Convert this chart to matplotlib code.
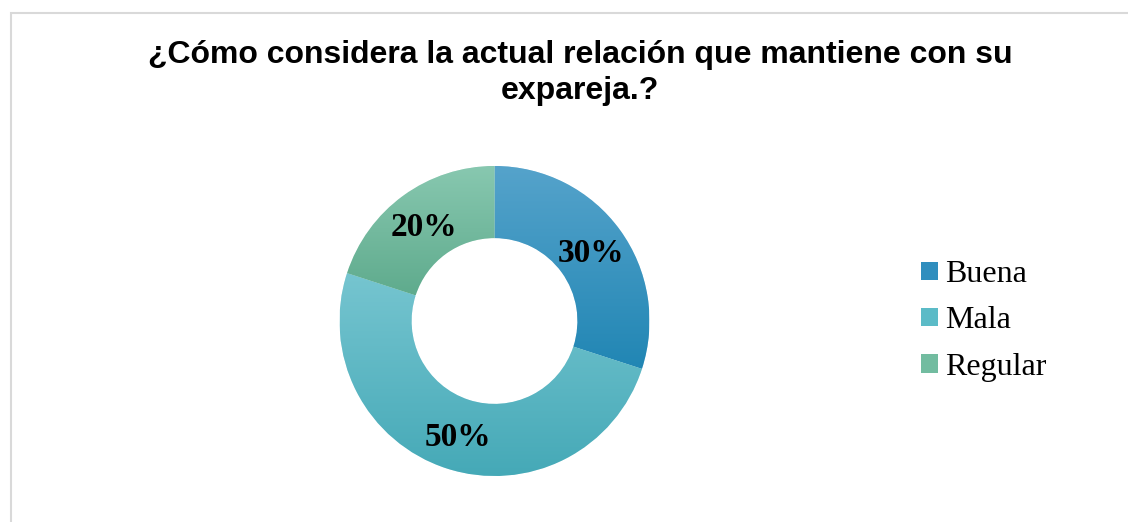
import numpy as np
import matplotlib
matplotlib.use('Agg')
import matplotlib.pyplot as plt
from matplotlib.patches import Rectangle, Patch
from matplotlib.colors import LinearSegmentedColormap

# data
categories = ['Buena', 'Mala', 'Regular']
values = [30, 50, 20]
labels = ['30%', '50%', '20%']
top_colors = ['#55A3CB', '#76C5D0', '#88C8B0']
bottom_colors = ['#2186B4', '#45A9B7', '#5FAB8D']
legend_colors = ['#2F8EBE', '#5BBBC7', '#72BCA0']

W, H = 1128, 522
fig = plt.figure(figsize=(W / 100, H / 100), dpi=100)

# light border (top and left visible)
fig.add_artist(Rectangle((11 / W, -0.2), 1.5, (H - 13) / H + 0.2,
                         transform=fig.transFigure, fill=False,
                         edgecolor='#D9D9D9', lw=1.5))

fig.text(580 / W, 1 - 55 / H, '¿Cómo considera la actual relación que mantiene con su',
         ha='center', va='center', fontsize=23, fontweight='bold',
         family='Liberation Sans')
fig.text(580 / W, 1 - 91 / H, 'expareja.?',
         ha='center', va='center', fontsize=23, fontweight='bold',
         family='Liberation Sans')

cx, cy, r = 494.5, H - 321, 155
pad = 1.03
ax = fig.add_axes([(cx - r * pad) / W, (cy - r * pad) / H, 2 * r * pad / W, 2 * r * pad / H])
wedges, _ = ax.pie(values, startangle=90, counterclock=False, radius=1,
                   colors=legend_colors,
                   wedgeprops=dict(width=0.465, edgecolor='white', linewidth=0.4))
ax.axis('off')

# vertical gradient inside each wedge
for w, ct, cb in zip(wedges, top_colors, bottom_colors):
    ext = w.get_path().get_extents()
    cmap = LinearSegmentedColormap.from_list('g', [cb, ct])
    grad = np.linspace(0, 1, 256).reshape(-1, 1)
    im = ax.imshow(grad, cmap=cmap, origin='lower', aspect='auto',
                   extent=[ext.x0, ext.x1, ext.y0, ext.y1], zorder=2)
    im.set_clip_path(w)
ax.set_xlim(-pad, pad)
ax.set_ylim(-pad, pad)
ax.set_aspect('auto')

# labels
ang = 90
for v, lab in zip(values, labels):
    mid = np.deg2rad(ang - v * 3.6 / 2)
    ang -= v * 3.6
    ax.text(0.77 * np.cos(mid), 0.77 * np.sin(mid) - 0.02, lab, ha='center', va='center',
            fontsize=24, fontweight='bold', family='Liberation Serif', zorder=5)

handles = [Patch(facecolor=c, edgecolor='none') for c in legend_colors]
fig.legend(handles, categories, loc='center left', bbox_to_anchor=(921 / W, 1 - 321 / H),
           frameon=False, prop={'family': 'Liberation Serif', 'size': 23},
           handlelength=0.52, handleheight=0.52, handletextpad=0.22, labelspacing=0.54,
           borderpad=0, borderaxespad=0)

fig.savefig('out.png', dpi=100)
